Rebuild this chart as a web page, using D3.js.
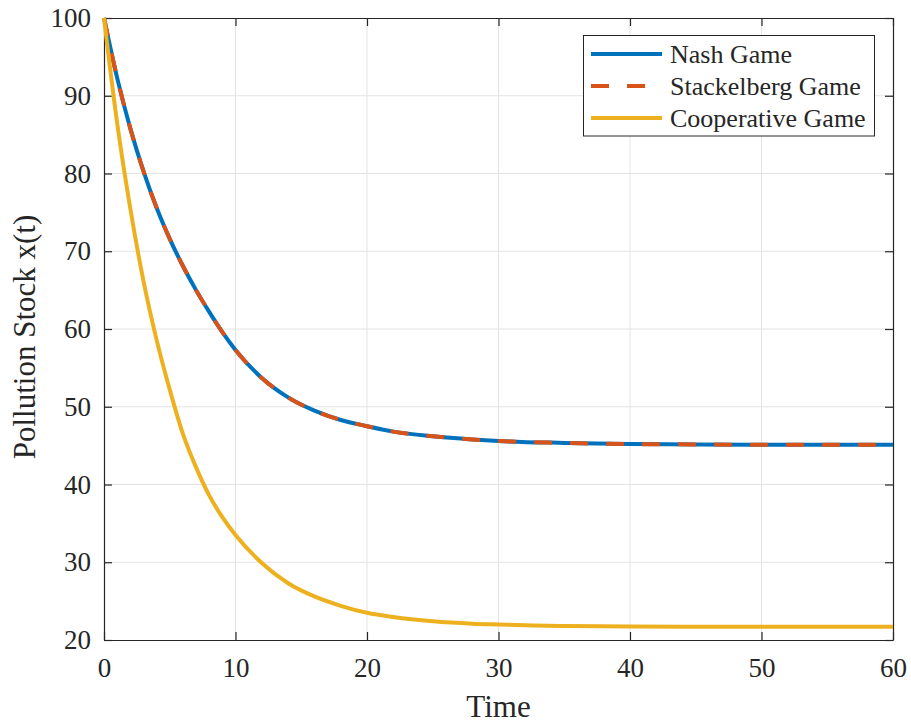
<!DOCTYPE html>
<html>
<head>
<meta charset="utf-8">
<script src="https://cdn.jsdelivr.net/npm/d3@7"></script>
<style>
  body { margin: 0; background: #fff; }
  svg text { font-family: "Liberation Serif", "Times New Roman", serif; fill: #262626; }
</style>
</head>
<body>
<div id="chart"></div>
<script>
// time points and pollution stock values
const timePoints = [0, 1, 2, 3, 4, 5, 6, 7, 8, 9, 10, 12, 14, 16, 18, 20, 22, 25, 28, 30, 35, 40, 45, 50, 55, 60];
const nashValues = [100, 92.3, 85.8, 80.3, 75.6, 71.6, 68.1, 65.0, 62.2, 59.6, 57.3, 53.7, 51.2, 49.5, 48.3, 47.5, 46.8, 46.2, 45.8, 45.6, 45.35, 45.2, 45.15, 45.1, 45.1, 45.1];
const stackelbergValues = [100, 92.3, 85.8, 80.3, 75.6, 71.6, 68.1, 65.0, 62.2, 59.6, 57.3, 53.7, 51.2, 49.5, 48.3, 47.5, 46.8, 46.2, 45.8, 45.6, 45.35, 45.2, 45.15, 45.1, 45.1, 45.1];
const coopValues = [100, 86.5, 75.5, 66.2, 58.6, 52.2, 46.5, 42.2, 38.6, 35.8, 33.5, 29.9, 27.3, 25.6, 24.4, 23.5, 22.95, 22.4, 22.1, 22.0, 21.8, 21.75, 21.7, 21.7, 21.7, 21.7];

const seriesNames = ["Nash Game", "Stackelberg Game", "Cooperative Game"];
const xTicks = [0, 10, 20, 30, 40, 50, 60];
const yTicks = [20, 30, 40, 50, 60, 70, 80, 90, 100];

const width = 911, height = 726;
const margin = { left: 104, right: 18, top: 18, bottom: 86 };

const svg = d3.select("#chart").append("svg")
  .attr("width", width)
  .attr("height", height);

const x = d3.scaleLinear().domain([0, 60]).range([margin.left, width - margin.right]);
const y = d3.scaleLinear().domain([20, 100]).range([height - margin.bottom, margin.top]);

// grid
const grid = svg.append("g").attr("stroke", "#e3e3e3").attr("stroke-width", 1);
grid.selectAll(".vg").data(xTicks.slice(1, -1)).enter().append("line")
  .attr("x1", d => x(d)).attr("x2", d => x(d))
  .attr("y1", y(20)).attr("y2", y(100));
grid.selectAll(".hg").data(yTicks.slice(1, -1)).enter().append("line")
  .attr("x1", x(0)).attr("x2", x(60))
  .attr("y1", d => y(d)).attr("y2", d => y(d));

// axes (ticks inside, box on)
const fmt = d3.format("d");
const axisStyle = g => {
  g.attr("font-family", null);
  g.select(".domain").attr("stroke", "#262626").attr("stroke-width", 1.2);
  g.selectAll(".tick line").attr("stroke", "#262626").attr("stroke-width", 1.2);
  g.selectAll(".tick text")
    .style("font-family", "'Liberation Serif', 'Times New Roman', serif")
    .style("font-size", "27px").attr("fill", "#262626");
};
svg.append("g").attr("transform", `translate(0,${y(20)})`)
  .call(d3.axisBottom(x).tickValues(xTicks).tickFormat(fmt).tickSizeInner(-8).tickSizeOuter(0).tickPadding(18))
  .call(axisStyle);
svg.append("g").attr("transform", `translate(0,${y(100)})`)
  .call(d3.axisTop(x).tickValues(xTicks).tickFormat("").tickSizeInner(-8).tickSizeOuter(0))
  .call(axisStyle);
svg.append("g").attr("transform", `translate(${x(0)},0)`)
  .call(d3.axisLeft(y).tickValues(yTicks).tickFormat(fmt).tickSizeInner(-8).tickSizeOuter(0).tickPadding(13))
  .call(axisStyle);
svg.append("g").attr("transform", `translate(${x(60)},0)`)
  .call(d3.axisRight(y).tickValues(yTicks).tickFormat("").tickSizeInner(-8).tickSizeOuter(0))
  .call(axisStyle);

// lines
const line = d3.line()
  .x((d, i) => x(timePoints[i]))
  .y(d => y(d))
  .curve(d3.curveMonotoneX);

const plot = svg.append("g").attr("fill", "none").attr("stroke-width", 4);
plot.append("path").datum(nashValues).attr("d", line).attr("stroke", "#0072BD");
plot.append("path").datum(stackelbergValues).attr("d", line).attr("stroke", "#D95319")
  .attr("stroke-dasharray", "18,18");
plot.append("path").datum(coopValues).attr("d", line).attr("stroke", "#EDB120");

// axis labels
svg.append("text")
  .attr("x", (x(0) + x(60)) / 2).attr("y", 717)
  .attr("text-anchor", "middle")
  .style("font-size", "31px")
  .text("Time");
svg.append("text")
  .attr("transform", `translate(35,${(y(20) + y(100)) / 2 + 8}) rotate(-90)`)
  .attr("text-anchor", "middle")
  .style("font-size", "31px")
  .text("Pollution Stock x(t)");

// legend
const legend = svg.append("g");
legend.append("rect")
  .attr("x", 583.5).attr("y", 35.5).attr("width", 291).attr("height", 100.5)
  .attr("fill", "#fff").attr("stroke", "#262626").attr("stroke-width", 1);
const legColors = ["#0072BD", "#D95319", "#EDB120"];
const legDash = [null, "18,18", null];
seriesNames.forEach((name, i) => {
  const ly = 54 + i * 32;
  legend.append("line")
    .attr("x1", 591).attr("x2", 662).attr("y1", ly).attr("y2", ly)
    .attr("stroke", legColors[i]).attr("stroke-width", 4)
    .attr("stroke-dasharray", legDash[i]);
  legend.append("text")
    .attr("x", 670).attr("y", ly + 9)
    .style("font-size", "26px")
    .text(name);
});
</script>
</body>
</html>
